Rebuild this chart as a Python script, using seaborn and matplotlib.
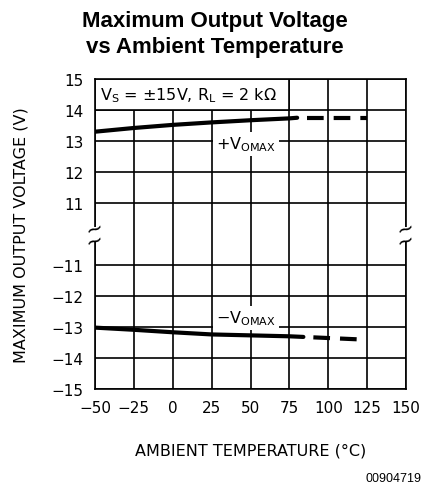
import numpy as np
import pandas as pd
import matplotlib
matplotlib.use("Agg")
import matplotlib.pyplot as plt
import seaborn as sns
from matplotlib.patches import Rectangle

# data
temp_pos_solid = [-50, -25, 0, 25, 50, 75, 80]
vout_pos_solid = [13.30, 13.42, 13.52, 13.60, 13.67, 13.73, 13.75]
temp_pos_dash = [80, 125]
vout_pos_dash = [13.75, 13.75]

temp_neg_solid = [-50, -25, 0, 25, 50, 75, 84]
vout_neg_solid = [-13.02, -13.09, -13.17, -13.24, -13.27, -13.30, -13.32]
temp_neg_dash = [84, 120]
vout_neg_dash = [-13.32, -13.40]

x_ticks = [-50, -25, 0, 25, 50, 75, 100, 125, 150]
y_ticks = [-15, -14, -13, -12, -11, 11, 12, 13, 14, 15]


def brk(v):
    # broken y-axis: 11..15 sits above -15..-11 with a 2-unit gap
    v = np.asarray(v, dtype=float)
    return np.where(v > 0, v - 5, v + 15)


sns.set_theme(style="white")
plt.rcParams["font.family"] = ["DejaVu Sans"]
plt.rcParams["text.color"] = "black"

fig = plt.figure(figsize=(4.25, 4.89), dpi=100)
ax = fig.add_axes([95 / 425, 1 - 390 / 489, 311 / 425, 310 / 489])

dash = (4, (4, 2.4))  # start with a gap after the solid part
segs = [
    (temp_pos_solid, vout_pos_solid, "-"),
    (temp_pos_dash, vout_pos_dash, dash),
    (temp_neg_solid, vout_neg_solid, "-"),
    (temp_neg_dash, vout_neg_dash, dash),
]
for t, v, ls in segs:
    df = pd.DataFrame({"T": t, "V": brk(v)})
    sns.lineplot(data=df, x="T", y="V", ax=ax, color="black", linewidth=3,
                 linestyle=ls, zorder=3)

ax.set_xlim(-50, 150)
ax.set_ylim(0, 10)
ax.set_xticks(x_ticks)
ax.set_xticklabels([str(x).replace("-", "\u2212") for x in x_ticks])
ax.set_yticks(brk(y_ticks))
ax.set_yticklabels([str(y).replace("-", "\u2212") for y in y_ticks])
ax.tick_params(length=0, labelsize=11, pad=8, colors="black")
ax.grid(True, color="black", linewidth=1.2)
ax.set_axisbelow(True)
for s in ax.spines.values():
    s.set_color("black")
    s.set_linewidth(1.2)

ax.set_xlabel("AMBIENT TEMPERATURE (\u00b0C)", fontsize=11.5, labelpad=20, color="black")
ax.set_ylabel("MAXIMUM OUTPUT VOLTAGE (V)", fontsize=11.5, labelpad=17, color="black")

# conditions box in the top row
ax.add_patch(Rectangle((-50, 9), 125, 1, facecolor="white", edgecolor="black",
                       linewidth=1.2, zorder=1))
ax.text(-47, 9.5, "V$_\\mathregular{S}$ = \u00b115V, R$_\\mathregular{L}$ = 2 k\u03a9",
        fontsize=11.5, va="center", ha="left", zorder=2)

ax.text(47, 7.9, "+V$_\\mathregular{OMAX}$", fontsize=11.5, ha="center", va="center",
        zorder=2, bbox=dict(facecolor="white", edgecolor="none", pad=2))
ax.text(47, 2.3, "\u2212V$_\\mathregular{OMAX}$", fontsize=11.5, ha="center", va="center",
        zorder=2, bbox=dict(facecolor="white", edgecolor="none", pad=2))

# axis break marks
for xb in (-50, 150):
    ax.add_patch(Rectangle((xb - 2, 4.78), 4, 0.44, facecolor="white",
                           edgecolor="none", zorder=3, clip_on=False))
    for yb in (4.8, 5.2):
        ax.text(xb, yb, "~", fontsize=15, ha="center", va="center",
                rotation=20, zorder=4, clip_on=False)

fig.text(0.505, 1 - 11 / 489, "Maximum Output Voltage\nvs Ambient Temperature",
         ha="center", va="top", fontsize=16, fontweight="bold",
         family="Liberation Sans", linespacing=1.3, color="black")
fig.text(421 / 425, 1 - 479 / 489, "00904719", ha="right", va="center",
         fontsize=9, family="Liberation Sans", color="black")

fig.savefig("out.png", dpi=100)
